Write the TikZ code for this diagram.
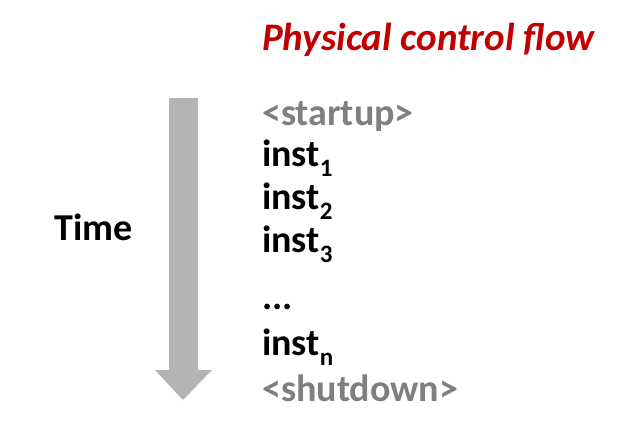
\documentclass[tikz,border=0pt]{standalone}
\usepackage{fontspec}
\setmainfont{Carlito}
\definecolor{titlered}{HTML}{C00000}
\definecolor{txtgray}{HTML}{7F7F7F}
\definecolor{arrgray}{HTML}{B4B4B4}
\newcommand{\instsub}[1]{\raisebox{-0.28em}{\fontsize{25}{26}\selectfont #1}}
\tikzset{
  line/.style={anchor=base west, inner sep=0pt, font=\fontsize{38}{40}\selectfont\bfseries},
  grayline/.style={line, text=txtgray},
}
\begin{document}
\begin{tikzpicture}[x=1pt,y=-1pt]
\useasboundingbox (0,0) rectangle (632,436);
\node[anchor=base west, inner sep=0pt, text=titlered, font=\fontsize{39}{41}\selectfont\bfseries\itshape] (title) at (262,51) {Physical control flow};
\node[grayline] (startup) at (262,125) {<startup>};
\node[line] (i1) at (262,166) {inst\instsub{1}};
\node[line] (i2) at (262,209) {inst\instsub{2}};
\node[line] (i3) at (262,252) {inst\instsub{3}};
\node[line] (dots) at (262,309) {...};
\node[line] (in) at (262,355) {inst\instsub{n}};
\node[grayline] (shutdown) at (262,401) {<shutdown>};
\node[line] (time) at (54,240) {Time};
\coordinate (atop) at (183,98);
\coordinate (atip) at (183,400);
\fill[arrgray] (169,98) -- (198,98) -- (198,370) -- (212,370) -- (atip) -- (155,370) -- (169,370) -- cycle;
\end{tikzpicture}
\end{document}
